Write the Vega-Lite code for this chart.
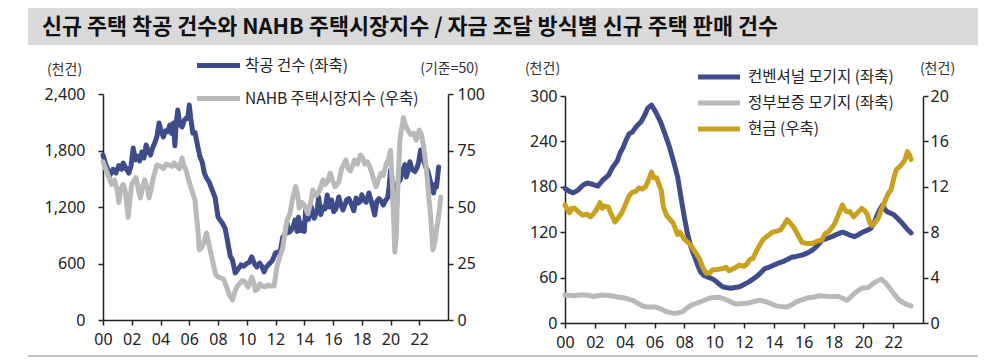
{
"$schema": "https://vega.github.io/schema/vega-lite/v6.json",
"padding": {"left": 28, "top": 8, "right": 22, "bottom": 4},
"background": "white",
"bounds": "flush",
"spacing": 0,
"config": {
  "view": {"stroke": null},
  "font": "Noto Sans CJK KR",
  "axis": {"domainColor": "#222", "domainWidth": 1.5, "tickColor": "#222", "tickWidth": 1.5, "tickSize": 5, "labelFont": "Noto Sans", "labelFontSize": 16, "labelColor": "#222", "titleFont": "Noto Sans CJK KR", "titleFontSize": 14, "titleFontWeight": "normal", "titleColor": "#333", "grid": false, "titleAngle": 0, "titleAlign": "center", "titleBaseline": "middle", "labelFlush": false, "labelOverlap": false}
},
"datasets": {
  "heading": [{"title": "신규 주택 착공 건수와 NAHB 주택시장지수 / 자금 조달 방식별 신규 주택 판매 건수"}],
  "starts": [
    {"t":2000.0,"v":1752},{"t":2000.2,"v":1650},{"t":2000.5,"v":1540},{"t":2000.7,"v":1600},{"t":2000.9,"v":1560},{"t":2001.1,"v":1640},{"t":2001.3,"v":1600},{"t":2001.4,"v":1667},{"t":2001.6,"v":1610},{"t":2001.8,"v":1560},{"t":2001.95,"v":1640},
    {"t":2002.1,"v":1827},{"t":2002.25,"v":1700},{"t":2002.4,"v":1740},{"t":2002.55,"v":1690},{"t":2002.7,"v":1784},{"t":2002.85,"v":1720},{"t":2003.0,"v":1858},{"t":2003.15,"v":1790},{"t":2003.3,"v":1752},{"t":2003.45,"v":1830},{"t":2003.6,"v":1880},{"t":2003.75,"v":1950},{"t":2003.9,"v":2092},
    {"t":2004.05,"v":2000},{"t":2004.2,"v":1943},{"t":2004.35,"v":2010},{"t":2004.5,"v":2000},{"t":2004.65,"v":2070},{"t":2004.8,"v":1980},{"t":2004.9,"v":2092},{"t":2005.0,"v":1850},{"t":2005.1,"v":2100},{"t":2005.2,"v":2230},{"t":2005.35,"v":2080},{"t":2005.5,"v":2050},{"t":2005.65,"v":2120},{"t":2005.8,"v":2145},{"t":2005.9,"v":2140},
    {"t":2006.0,"v":2283},{"t":2006.1,"v":2150},{"t":2006.25,"v":1985},{"t":2006.4,"v":1990},{"t":2006.6,"v":1837},{"t":2006.75,"v":1730},{"t":2006.9,"v":1678},{"t":2007.05,"v":1560},{"t":2007.2,"v":1508},{"t":2007.4,"v":1460},{"t":2007.6,"v":1380},{"t":2007.8,"v":1300},
    {"t":2008.0,"v":1094},{"t":2008.15,"v":1060},{"t":2008.3,"v":1030},{"t":2008.5,"v":970},{"t":2008.65,"v":850},{"t":2008.85,"v":680},{"t":2009.0,"v":640},{"t":2009.2,"v":500},{"t":2009.35,"v":530},{"t":2009.6,"v":585},{"t":2009.8,"v":570},
    {"t":2010.0,"v":600},{"t":2010.15,"v":610},{"t":2010.35,"v":670},{"t":2010.55,"v":590},{"t":2010.7,"v":563},{"t":2010.9,"v":605},{"t":2011.05,"v":570},{"t":2011.2,"v":510},{"t":2011.35,"v":560},{"t":2011.5,"v":585},{"t":2011.65,"v":610},{"t":2011.8,"v":637},
    {"t":2012.0,"v":712},{"t":2012.2,"v":720},{"t":2012.35,"v":740},{"t":2012.5,"v":880},{"t":2012.65,"v":900},{"t":2012.8,"v":1030},{"t":2012.95,"v":930},{"t":2013.1,"v":955},{"t":2013.25,"v":1000},{"t":2013.35,"v":1062},{"t":2013.5,"v":940},{"t":2013.6,"v":1090},{"t":2013.75,"v":950},{"t":2013.9,"v":1030},
    {"t":2014.0,"v":940},{"t":2014.1,"v":1168},{"t":2014.3,"v":1070},{"t":2014.5,"v":1200},{"t":2014.7,"v":1080},{"t":2014.9,"v":1168},{"t":2015.0,"v":1306},{"t":2015.15,"v":1120},{"t":2015.3,"v":1200},{"t":2015.45,"v":1180},{"t":2015.6,"v":1327},{"t":2015.75,"v":1200},{"t":2015.9,"v":1275},
    {"t":2016.05,"v":1150},{"t":2016.2,"v":1180},{"t":2016.4,"v":1306},{"t":2016.55,"v":1220},{"t":2016.7,"v":1168},{"t":2016.95,"v":1275},{"t":2017.1,"v":1290},{"t":2017.3,"v":1221},{"t":2017.45,"v":1160},{"t":2017.6,"v":1295},{"t":2017.75,"v":1240},{"t":2017.9,"v":1260},
    {"t":2018.0,"v":1330},{"t":2018.15,"v":1280},{"t":2018.3,"v":1250},{"t":2018.5,"v":1349},{"t":2018.7,"v":1240},{"t":2018.9,"v":1115},{"t":2019.05,"v":1260},{"t":2019.2,"v":1290},{"t":2019.35,"v":1260},{"t":2019.5,"v":1220},{"t":2019.65,"v":1270},{"t":2019.8,"v":1300},{"t":2019.9,"v":1412},
    {"t":2020.0,"v":1590},{"t":2020.1,"v":1500},{"t":2020.2,"v":1250},{"t":2020.3,"v":1000},{"t":2020.4,"v":1150},{"t":2020.5,"v":1455},{"t":2020.65,"v":1480},{"t":2020.85,"v":1590},{"t":2021.0,"v":1650},{"t":2021.1,"v":1520},{"t":2021.25,"v":1600},{"t":2021.35,"v":1680},{"t":2021.5,"v":1600},{"t":2021.7,"v":1575},{"t":2021.85,"v":1620},{"t":2021.95,"v":1670},
    {"t":2022.1,"v":1805},{"t":2022.25,"v":1720},{"t":2022.45,"v":1625},{"t":2022.6,"v":1580},{"t":2022.8,"v":1455},{"t":2022.9,"v":1400},{"t":2023.0,"v":1349},{"t":2023.1,"v":1440},{"t":2023.2,"v":1412},{"t":2023.35,"v":1625}
  ],
  "nahb": [
    {"t":2000.0,"v":70},{"t":2000.3,"v":65},{"t":2000.6,"v":60},{"t":2000.8,"v":62},{"t":2001.0,"v":57},{"t":2001.1,"v":52},{"t":2001.25,"v":58},{"t":2001.4,"v":60},{"t":2001.55,"v":57},{"t":2001.75,"v":45.5},{"t":2001.9,"v":55},
    {"t":2002.0,"v":60},{"t":2002.3,"v":63},{"t":2002.45,"v":58},{"t":2002.6,"v":54},{"t":2002.75,"v":59},{"t":2002.9,"v":62},{"t":2003.1,"v":58},{"t":2003.2,"v":54},{"t":2003.35,"v":58},{"t":2003.5,"v":63},{"t":2003.75,"v":68.6},
    {"t":2004.0,"v":68},{"t":2004.2,"v":67},{"t":2004.4,"v":69},{"t":2004.6,"v":68.6},{"t":2004.8,"v":68},{"t":2004.95,"v":69.5},{"t":2005.15,"v":68},{"t":2005.3,"v":67},{"t":2005.5,"v":71.7},{"t":2005.65,"v":68},{"t":2005.8,"v":66},{"t":2005.95,"v":62},
    {"t":2006.1,"v":59},{"t":2006.3,"v":55},{"t":2006.4,"v":53},{"t":2006.5,"v":46},{"t":2006.6,"v":40},{"t":2006.7,"v":31},{"t":2006.85,"v":32},{"t":2007.0,"v":34},{"t":2007.2,"v":38.5},{"t":2007.35,"v":34},{"t":2007.5,"v":29.6},{"t":2007.7,"v":24},{"t":2007.85,"v":20},
    {"t":2008.0,"v":19},{"t":2008.2,"v":18.6},{"t":2008.4,"v":18},{"t":2008.6,"v":14.6},{"t":2008.8,"v":11},{"t":2009.0,"v":8.8},{"t":2009.2,"v":13},{"t":2009.35,"v":15},{"t":2009.5,"v":16},{"t":2009.7,"v":17.5},{"t":2009.85,"v":17},
    {"t":2010.1,"v":14.6},{"t":2010.35,"v":19},{"t":2010.5,"v":16},{"t":2010.6,"v":13},{"t":2010.8,"v":14},{"t":2010.9,"v":16},{"t":2011.1,"v":15},{"t":2011.3,"v":14.6},{"t":2011.5,"v":15.5},{"t":2011.6,"v":15},{"t":2011.9,"v":15},
    {"t":2012.1,"v":23.5},{"t":2012.3,"v":28},{"t":2012.5,"v":32},{"t":2012.65,"v":38},{"t":2012.8,"v":44},{"t":2013.0,"v":47},{"t":2013.2,"v":54},{"t":2013.4,"v":59},{"t":2013.55,"v":55},{"t":2013.65,"v":49.6},{"t":2013.85,"v":52},
    {"t":2014.0,"v":51},{"t":2014.25,"v":47},{"t":2014.45,"v":52},{"t":2014.6,"v":57.5},{"t":2014.8,"v":55},{"t":2014.95,"v":56},{"t":2015.1,"v":58},{"t":2015.3,"v":62},{"t":2015.45,"v":60},{"t":2015.6,"v":61},{"t":2015.8,"v":65},{"t":2015.95,"v":62},
    {"t":2016.15,"v":59},{"t":2016.4,"v":61},{"t":2016.6,"v":67},{"t":2016.9,"v":70.8},{"t":2017.05,"v":67},{"t":2017.2,"v":66},{"t":2017.35,"v":68},{"t":2017.5,"v":70.8},{"t":2017.7,"v":69},{"t":2017.9,"v":73},
    {"t":2018.05,"v":72},{"t":2018.2,"v":69},{"t":2018.4,"v":70},{"t":2018.6,"v":67},{"t":2018.8,"v":63},{"t":2019.0,"v":59},{"t":2019.15,"v":62},{"t":2019.35,"v":65},{"t":2019.5,"v":64},{"t":2019.7,"v":69},{"t":2019.85,"v":71},
    {"t":2020.0,"v":75},{"t":2020.15,"v":57},{"t":2020.3,"v":30},{"t":2020.4,"v":37},{"t":2020.5,"v":57},{"t":2020.65,"v":79.6},{"t":2020.9,"v":89.5},{"t":2021.05,"v":86},{"t":2021.2,"v":84},{"t":2021.4,"v":82},{"t":2021.6,"v":82.7},{"t":2021.8,"v":79.6},
    {"t":2022.0,"v":84},{"t":2022.15,"v":82},{"t":2022.3,"v":77},{"t":2022.45,"v":69},{"t":2022.55,"v":63},{"t":2022.7,"v":52},{"t":2022.8,"v":45.6},{"t":2022.95,"v":31},{"t":2023.1,"v":35},{"t":2023.2,"v":40},{"t":2023.3,"v":44},{"t":2023.4,"v":48.7},{"t":2023.5,"v":54.4}
  ],
  "conv": [
    {"t":2000.0,"v":178},{"t":2000.3,"v":174},{"t":2000.55,"v":172},{"t":2000.9,"v":176},{"t":2001.2,"v":182},{"t":2001.5,"v":185},{"t":2001.9,"v":183},{"t":2002.2,"v":181},{"t":2002.55,"v":189},{"t":2002.9,"v":195},
    {"t":2003.2,"v":206},{"t":2003.5,"v":214},{"t":2003.7,"v":225},{"t":2003.9,"v":232},{"t":2004.1,"v":242},{"t":2004.3,"v":250},{"t":2004.5,"v":252},{"t":2004.8,"v":260},{"t":2005.1,"v":266},{"t":2005.35,"v":275},{"t":2005.55,"v":284},{"t":2005.8,"v":288},
    {"t":2006.1,"v":278},{"t":2006.4,"v":266},{"t":2006.7,"v":250},{"t":2007.0,"v":233},{"t":2007.3,"v":212},{"t":2007.55,"v":193},{"t":2007.8,"v":163},{"t":2008.0,"v":140},{"t":2008.2,"v":119},{"t":2008.45,"v":100},{"t":2008.7,"v":87},{"t":2008.9,"v":76},
    {"t":2009.1,"v":67},{"t":2009.3,"v":63},{"t":2009.55,"v":61},{"t":2009.8,"v":59},{"t":2010.0,"v":57},{"t":2010.3,"v":52},{"t":2010.55,"v":48},{"t":2010.8,"v":47},{"t":2011.1,"v":46},{"t":2011.4,"v":47},{"t":2011.7,"v":48},
    {"t":2012.0,"v":51},{"t":2012.3,"v":54},{"t":2012.6,"v":58},{"t":2012.95,"v":63},{"t":2013.2,"v":68},{"t":2013.4,"v":72},{"t":2013.7,"v":74},{"t":2014.05,"v":77},{"t":2014.3,"v":79},{"t":2014.6,"v":81},{"t":2014.9,"v":84},
    {"t":2015.2,"v":87},{"t":2015.5,"v":88},{"t":2015.95,"v":90},{"t":2016.3,"v":93},{"t":2016.6,"v":96.5},{"t":2016.9,"v":102},{"t":2017.25,"v":110},{"t":2017.6,"v":112},{"t":2017.9,"v":114},{"t":2018.2,"v":117},{"t":2018.6,"v":120},{"t":2018.9,"v":118},
    {"t":2019.1,"v":116},{"t":2019.4,"v":114},{"t":2019.7,"v":117},{"t":2019.95,"v":120},{"t":2020.2,"v":122},{"t":2020.5,"v":125},{"t":2020.7,"v":131},{"t":2020.85,"v":139},{"t":2021.1,"v":150},{"t":2021.3,"v":156},{"t":2021.45,"v":150},{"t":2021.6,"v":147},
    {"t":2022.05,"v":143},{"t":2022.3,"v":138},{"t":2022.6,"v":132},{"t":2022.9,"v":125},{"t":2023.2,"v":119}
  ],
  "gov": [
    {"t":2000.0,"v":37},{"t":2000.6,"v":36},{"t":2001.0,"v":37},{"t":2001.5,"v":37},{"t":2001.9,"v":35},{"t":2002.5,"v":37},{"t":2003.1,"v":36},{"t":2003.6,"v":34},{"t":2004.0,"v":33},{"t":2004.55,"v":30},
    {"t":2005.2,"v":22.5},{"t":2005.6,"v":21},{"t":2006.1,"v":21},{"t":2006.5,"v":18},{"t":2006.8,"v":15},{"t":2007.2,"v":13},{"t":2007.5,"v":13},{"t":2007.9,"v":15},{"t":2008.2,"v":20},{"t":2008.5,"v":24},
    {"t":2009.1,"v":28},{"t":2009.7,"v":33},{"t":2010.25,"v":34},{"t":2010.5,"v":33},{"t":2010.8,"v":31},{"t":2011.2,"v":27},{"t":2011.5,"v":25},{"t":2012.2,"v":26},{"t":2012.6,"v":28},{"t":2013.05,"v":30},{"t":2013.5,"v":28},
    {"t":2014.2,"v":22.5},{"t":2014.85,"v":21},{"t":2015.2,"v":24},{"t":2015.5,"v":28},{"t":2016.2,"v":33},{"t":2016.6,"v":34},{"t":2017.05,"v":36},{"t":2017.7,"v":35},{"t":2018.35,"v":35},{"t":2018.9,"v":30},
    {"t":2019.2,"v":35},{"t":2019.45,"v":40},{"t":2019.9,"v":46},{"t":2020.35,"v":47},{"t":2020.7,"v":53},{"t":2021.0,"v":56},{"t":2021.2,"v":58},{"t":2021.5,"v":53},{"t":2022.0,"v":40},{"t":2022.4,"v":30},{"t":2022.85,"v":25},{"t":2023.2,"v":22.5}
  ],
  "cash": [
    {"t":2000.0,"v":10.4},{"t":2000.3,"v":9.7},{"t":2000.45,"v":10.1},{"t":2000.65,"v":10.1},{"t":2000.9,"v":9.8},{"t":2001.2,"v":9.5},{"t":2001.45,"v":9.6},{"t":2001.7,"v":9.35},{"t":2001.9,"v":9.6},
    {"t":2002.1,"v":9.95},{"t":2002.35,"v":10.6},{"t":2002.5,"v":10.1},{"t":2002.65,"v":10.3},{"t":2002.9,"v":10.2},{"t":2003.1,"v":9.6},{"t":2003.35,"v":8.9},{"t":2003.6,"v":9.3},{"t":2003.8,"v":9.7},
    {"t":2004.1,"v":10.6},{"t":2004.3,"v":11.2},{"t":2004.5,"v":11.5},{"t":2004.75,"v":11.6},{"t":2004.95,"v":11.9},{"t":2005.2,"v":11.8},{"t":2005.4,"v":12.0},{"t":2005.6,"v":12.6},{"t":2005.8,"v":13.3},{"t":2005.95,"v":12.8},
    {"t":2006.15,"v":12.8},{"t":2006.3,"v":12.2},{"t":2006.45,"v":11.7},{"t":2006.6,"v":10.2},{"t":2006.8,"v":9.5},{"t":2007.0,"v":9.2},{"t":2007.25,"v":8.8},{"t":2007.55,"v":7.8},{"t":2007.7,"v":8.0},
    {"t":2008.0,"v":7.4},{"t":2008.4,"v":6.9},{"t":2008.7,"v":6.3},{"t":2009.0,"v":5.7},{"t":2009.2,"v":5.0},{"t":2009.45,"v":4.4},{"t":2009.7,"v":4.4},{"t":2009.9,"v":4.7},
    {"t":2010.2,"v":4.7},{"t":2010.55,"v":4.8},{"t":2010.8,"v":4.9},{"t":2011.0,"v":4.6},{"t":2011.3,"v":4.8},{"t":2011.7,"v":5.1},{"t":2012.0,"v":5.0},{"t":2012.2,"v":5.2},{"t":2012.4,"v":5.6},{"t":2012.6,"v":5.7},{"t":2012.9,"v":6.5},
    {"t":2013.25,"v":7.3},{"t":2013.5,"v":7.6},{"t":2013.9,"v":8.0},{"t":2014.2,"v":8.1},{"t":2014.45,"v":8.2},{"t":2014.7,"v":8.7},{"t":2014.9,"v":9.1},{"t":2015.1,"v":8.8},{"t":2015.35,"v":8.4},{"t":2015.6,"v":7.8},{"t":2015.9,"v":7.1},
    {"t":2016.2,"v":7.0},{"t":2016.55,"v":7.0},{"t":2016.9,"v":7.2},{"t":2017.2,"v":7.3},{"t":2017.45,"v":7.9},{"t":2017.65,"v":8.0},{"t":2017.9,"v":8.4},{"t":2018.1,"v":8.8},{"t":2018.35,"v":9.6},{"t":2018.6,"v":10.4},{"t":2018.75,"v":10.0},{"t":2018.9,"v":9.8},
    {"t":2019.1,"v":9.8},{"t":2019.35,"v":9.35},{"t":2019.6,"v":9.7},{"t":2019.9,"v":10.1},{"t":2020.1,"v":9.9},{"t":2020.25,"v":9.6},{"t":2020.45,"v":8.8},{"t":2020.6,"v":8.6},{"t":2020.8,"v":8.9},{"t":2021.0,"v":9.2},
    {"t":2021.2,"v":10.0},{"t":2021.35,"v":10.4},{"t":2021.5,"v":10.9},{"t":2021.7,"v":11.5},{"t":2021.85,"v":11.7},{"t":2022.05,"v":12.8},{"t":2022.2,"v":13.5},{"t":2022.45,"v":13.8},{"t":2022.65,"v":14.1},{"t":2022.8,"v":14.4},{"t":2022.95,"v":15.1},{"t":2023.1,"v":14.8},{"t":2023.2,"v":14.4}
  ]
},
"vconcat": [
  {
    "width": 950, "height": 37,
    "view": {"fill": "#d9d9d9", "stroke": null},
    "data": {"name": "heading"},
    "mark": {"type": "text", "align": "left", "baseline": "middle", "fontSize": 21.8, "fontWeight": "bold", "font": "Noto Sans CJK KR", "color": "#111"},
    "encoding": {"text": {"field": "title"}, "x": {"value": 14}, "y": {"value": 19}}
  },
  {
    "width": 895, "height": 310,
    "layer": [
      {
        "data": {"name": "starts"},
        "mark": {"type": "line", "strokeWidth": 5, "strokeJoin": "round", "strokeCap": "round"},
        "encoding": {
          "x": {"field": "t", "type": "quantitative", "scale": {"domain": [2000, 2024], "range": [75, 420], "nice": false, "zero": false},
                "axis": {"orient": "bottom", "offset": -35, "title": null, "values": [2000,2002,2004,2006,2008,2010,2012,2014,2016,2018,2020,2022], "labelExpr": "substring(toString(datum.value), 2, 4)", "labelPadding": 6}},
          "y": {"field": "v", "type": "quantitative", "scale": {"domain": [0, 2400], "range": [275, 49], "nice": false},
                "axis": {"orient": "left", "offset": -75, "values": [0,600,1200,1800,2400], "format": ",.0f", "labelPadding": 13, "title": "(천건)", "titleX": -39, "titleY": 24}},
          "color": {"datum": "착공 건수 (좌축)", "type": "nominal",
                    "scale": {"domain": ["착공 건수 (좌축)", "NAHB 주택시장지수 (우축)"], "range": ["#3f4c8c", "#b9b9b9"]},
                    "legend": {"orient": "none", "legendX": 177, "legendY": 44, "title": null, "symbolType": "M-2,0H2", "symbolSize": 462, "symbolStrokeWidth": 5, "labelFontSize": 15.5, "labelFont": "Noto Sans CJK KR", "labelColor": "#222", "labelOffset": 13, "rowPadding": 9, "padding": 0, "direction": "vertical", "labelLimit": 400}}
        }
      },
      {
        "data": {"name": "nahb"},
        "mark": {"type": "line", "strokeWidth": 5, "strokeJoin": "round", "strokeCap": "round"},
        "encoding": {
          "x": {"field": "t", "type": "quantitative", "scale": {"domain": [2000, 2024], "range": [75, 420], "nice": false, "zero": false}, "axis": null},
          "y": {"field": "v", "type": "quantitative", "scale": {"domain": [0, 100], "range": [275, 49], "nice": false},
                "axis": {"orient": "right", "offset": -475, "values": [0,25,50,75,100], "labelPadding": 4, "title": "(기준=50)", "titleX": 1, "titleY": 23}},
          "color": {"datum": "NAHB 주택시장지수 (우축)", "type": "nominal"}
        }
      },
      {
        "data": {"name": "conv"},
        "mark": {"type": "line", "strokeWidth": 5, "strokeJoin": "round", "strokeCap": "round"},
        "encoding": {
          "x": {"field": "t", "type": "quantitative", "scale": {"domain": [2000, 2024], "range": [537, 895], "nice": false, "zero": false},
                "axis": {"orient": "bottom", "offset": -32, "title": null, "values": [2000,2002,2004,2006,2008,2010,2012,2014,2016,2018,2020,2022], "labelExpr": "substring(toString(datum.value), 2, 4)", "labelPadding": 6}},
          "y": {"field": "v", "type": "quantitative", "scale": {"domain": [0, 300], "range": [278, 51], "nice": false},
                "axis": {"orient": "left", "offset": -537, "values": [0,60,120,180,240,300], "labelPadding": 3, "title": "(천건)", "titleX": -23, "titleY": 23}},
          "stroke": {"datum": "컨벤셔널 모기지 (좌축)", "type": "nominal",
                    "scale": {"domain": ["컨벤셔널 모기지 (좌축)", "정부보증 모기지 (좌축)", "현금 (우축)"], "range": ["#3f4c8c", "#b9b9b9", "#c9a020"]},
                    "legend": {"orient": "none", "legendX": 678, "legendY": 56, "title": null, "symbolType": "M-2,0H2", "symbolSize": 441, "symbolStrokeWidth": 5, "labelFontSize": 15.5, "labelFont": "Noto Sans CJK KR", "labelColor": "#222", "labelOffset": 16, "rowPadding": 3, "padding": 0, "direction": "vertical", "labelLimit": 400}}
        }
      },
      {
        "data": {"name": "gov"},
        "mark": {"type": "line", "strokeWidth": 5, "strokeJoin": "round", "strokeCap": "round"},
        "encoding": {
          "x": {"field": "t", "type": "quantitative", "scale": {"domain": [2000, 2024], "range": [537, 895], "nice": false, "zero": false}, "axis": null},
          "y": {"field": "v", "type": "quantitative", "scale": {"domain": [0, 300], "range": [278, 51], "nice": false}, "axis": null},
          "stroke": {"datum": "정부보증 모기지 (좌축)", "type": "nominal"}
        }
      },
      {
        "data": {"name": "cash"},
        "mark": {"type": "line", "strokeWidth": 5, "strokeJoin": "round", "strokeCap": "round"},
        "encoding": {
          "x": {"field": "t", "type": "quantitative", "scale": {"domain": [2000, 2024], "range": [537, 895], "nice": false, "zero": false}, "axis": null},
          "y": {"field": "v", "type": "quantitative", "scale": {"domain": [0, 20], "range": [278, 51], "nice": false},
                "axis": {"orient": "right", "offset": 0, "values": [0,4,8,12,16,20], "labelPadding": 2, "title": "(천건)", "titleX": 14, "titleY": 23}},
          "stroke": {"datum": "현금 (우축)", "type": "nominal"}
        }
      }
    ],
    "resolve": {"scale": {"x": "independent", "y": "independent"}, "axis": {"x": "independent", "y": "independent"}}
  },
  {
    "width": 950, "height": 2,
    "view": {"fill": "#c4c4c4", "stroke": null},
    "data": {"values": []},
    "mark": "point"
  }
]
}
